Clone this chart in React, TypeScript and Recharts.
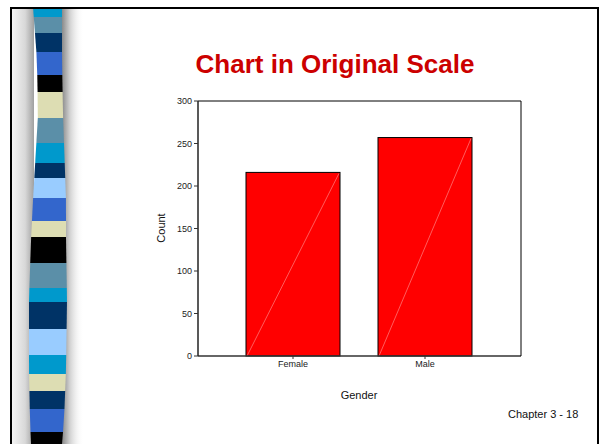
import React from "react"
import { BarChart, Bar, XAxis, YAxis } from "recharts"

const CATEGORIES = ["Female", "Male"]
const COUNTS = [216, 257]
const Y_TICKS = [0, 50, 100, 150, 200, 250, 300]

const data = CATEGORIES.map((gender, i) => ({ gender, count: COUNTS[i] }))

// decorative strip on the left of the slide: [top, colour]
const STRIP = [
  [7, "#0099cc"], [17, "#5b8fa8"], [33, "#003366"], [52, "#3366cc"],
  [75, "#000000"], [92, "#ddddb3"], [118, "#5b8fa8"], [143, "#0099cc"],
  [163, "#003366"], [178, "#99ccff"], [198, "#3366cc"], [221, "#ddddb3"],
  [237, "#000000"], [263, "#5b8fa8"], [288, "#0099cc"], [302, "#003366"],
  [329, "#99ccff"], [355, "#0099cc"], [374, "#ddddb3"], [391, "#003366"],
  [409, "#3366cc"], [432, "#000000"],
] as const

const EDGE = [
  [7, 33, 62], [60, 37, 62], [115, 38, 63], [200, 33, 66], [240, 31, 66],
  [300, 29, 67], [370, 29, 66], [420, 30, 64], [444, 31, 62],
]

function edgeAt(y: number, side: 1 | 2) {
  for (let i = 0; i < EDGE.length - 1; i++) {
    const a = EDGE[i], b = EDGE[i + 1]
    if (y >= a[0] && y <= b[0]) {
      const t = (y - a[0]) / (b[0] - a[0])
      return a[side] + (b[side] - a[side]) * t
    }
  }
  return EDGE[EDGE.length - 1][side]
}

const Strip = () => (
  <svg width={600} height={444} style={{ position: "absolute", left: 0, top: 0 }}>
    <defs>
      <linearGradient id="shL" x1="0" x2="1" y1="0" y2="0">
        <stop offset="0" stopColor="#f4f4f4" />
        <stop offset="0.6" stopColor="#d8d8d8" />
        <stop offset="1" stopColor="#a0a0a0" />
      </linearGradient>
      <linearGradient id="shR" x1="0" x2="1" y1="0" y2="0">
        <stop offset="0" stopColor="#8a8a8a" />
        <stop offset="0.35" stopColor="#d0d0d0" />
        <stop offset="1" stopColor="#ffffff" stopOpacity={0} />
      </linearGradient>
    </defs>
    <rect x={12} y={8} width={22} height={436} fill="url(#shL)" />
    <rect x={62} y={8} width={22} height={436} fill="url(#shR)" />
    {STRIP.map(([top, color], i) => {
      const bottom = i < STRIP.length - 1 ? STRIP[i + 1][0] : 444
      const pts = [
        [edgeAt(top, 1), top], [edgeAt(top, 2), top],
        [edgeAt(bottom, 2), bottom], [edgeAt(bottom, 1), bottom],
      ].map(p => p.join(",")).join(" ")
      return <polygon key={i} points={pts} fill={color} />
    })}
    <rect x={11} y={8} width={587} height={460} fill="none" stroke="#000" strokeWidth={2} />
  </svg>
)

const HatchedBar = (props: any) => {
  const { x, y, width, height } = props
  return (
    <g>
      <rect x={x} y={y} width={width} height={height} fill="#ff0000" stroke="#000" strokeWidth={1} />
      <line x1={x + 1} y1={y + height} x2={x + width - 1} y2={y + 1} stroke="#ff9a9a" strokeWidth={0.6} />
    </g>
  )
}

const tickStyle = { fontSize: 9, fill: "#222", fontFamily: "Liberation Sans, Arial, sans-serif" }

export default function App() {
  return (
    <div style={{ position: "fixed", left: 0, top: 0, width: 600, height: 444, background: "#fff", overflow: "hidden", fontFamily: "Liberation Sans, Arial, sans-serif" }}>
      <Strip />
      <div style={{ position: "absolute", left: 0, top: 49, width: 670, textAlign: "center", color: "#cc0000", fontWeight: "bold", fontSize: 26, lineHeight: "30px" }}>
        Chart in Original Scale
      </div>
      <div style={{ position: "absolute", left: 0, top: 0 }}>
        <BarChart width={600} height={444} data={data} margin={{ top: 100, right: 78, bottom: 58, left: 168 }}>
          <XAxis
            dataKey="gender"
            padding={{ left: 29, right: 30 }}
            tick={tickStyle}
            tickSize={3}
            height={30}
            axisLine={{ stroke: "#333", strokeWidth: 1.5 }}
            tickLine={{ stroke: "#333" }}
          />
          <XAxis xAxisId="top" orientation="top" dataKey="gender" height={1} tick={false} tickLine={false} axisLine={{ stroke: "#000" }} />
          <YAxis
            domain={[0, 300]}
            ticks={Y_TICKS}
            tick={tickStyle}
            tickSize={4}
            width={30}
            axisLine={{ stroke: "#222", strokeWidth: 1.5 }}
            tickLine={{ stroke: "#333" }}
          />
          <YAxis yAxisId="right" orientation="right" domain={[0, 300]} width={1} tick={false} tickLine={false} axisLine={{ stroke: "#000" }} />
          <Bar dataKey="count" barSize={94} shape={<HatchedBar />} isAnimationActive={false} />
        </BarChart>
      </div>
      <div style={{ position: "absolute", left: 161, top: 228, transform: "translate(-50%, -50%) rotate(-90deg)", fontSize: 11, color: "#111", whiteSpace: "nowrap" }}>
        Count
      </div>
      <div style={{ position: "absolute", left: 359, top: 395, transform: "translate(-50%, -50%)", fontSize: 11, color: "#111" }}>
        Gender
      </div>
      <div style={{ position: "absolute", left: 508, top: 408, fontSize: 11, color: "#111", whiteSpace: "nowrap" }}>
        Chapter 3 - 18
      </div>
    </div>
  )
}
